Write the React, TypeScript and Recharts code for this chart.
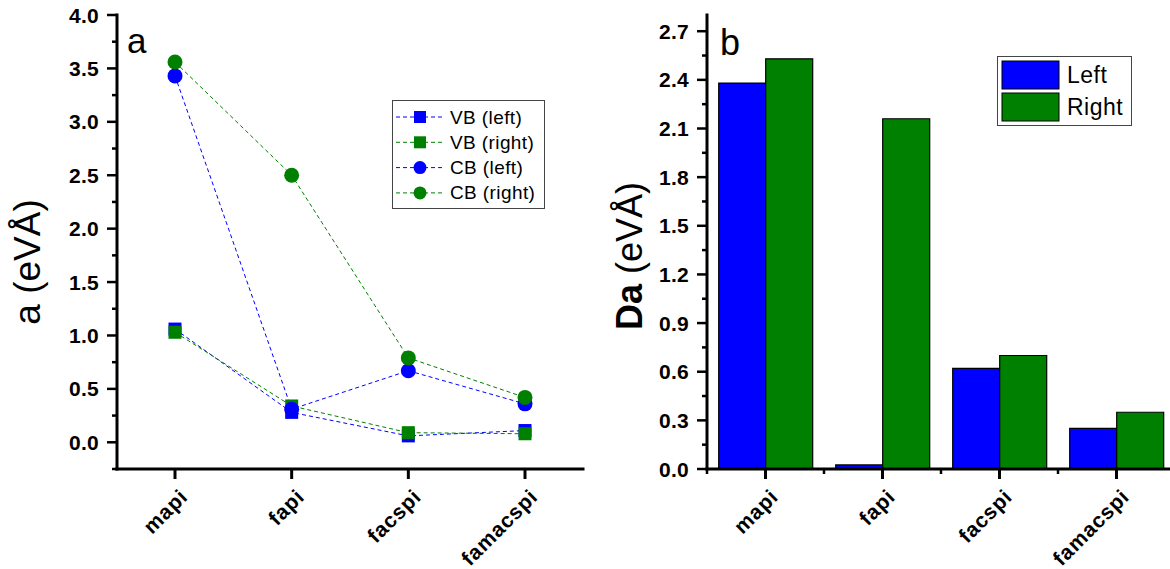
import React from 'react';
import { LineChart, Line, XAxis, YAxis, BarChart, Bar, Legend, Label } from 'recharts';

const categories = ['mapi', 'fapi', 'facspi', 'famacspi'];
const vbLeft = [1.06, 0.28, 0.06, 0.11];
const vbRight = [1.03, 0.34, 0.09, 0.08];
const cbLeft = [3.43, 0.31, 0.67, 0.36];
const cbRight = [3.56, 2.5, 0.79, 0.42];
const daLeft = [2.38, 0.025, 0.62, 0.25];
const daRight = [2.53, 2.16, 0.7, 0.35];

const leftYTicks = [-0.25, 0, 0.25, 0.5, 0.75, 1.0, 1.25, 1.5, 1.75, 2.0, 2.25, 2.5, 2.75, 3.0, 3.25, 3.5, 3.75, 4.0];
const leftYMajor = [0, 0.5, 1.0, 1.5, 2.0, 2.5, 3.0, 3.5, 4.0];
const rightYTicks = [0, 0.15, 0.3, 0.45, 0.6, 0.75, 0.9, 1.05, 1.2, 1.35, 1.5, 1.65, 1.8, 1.95, 2.1, 2.25, 2.4, 2.55, 2.7];
const rightYMajor = [0, 0.3, 0.6, 0.9, 1.2, 1.5, 1.8, 2.1, 2.4, 2.7];

const lineSeries = [
  { key: 'vbLeft', label: 'VB (left)', color: '#0000ff', shape: 'square', values: vbLeft },
  { key: 'vbRight', label: 'VB (right)', color: '#008000', shape: 'square', values: vbRight },
  { key: 'cbLeft', label: 'CB (left)', color: '#0000ff', shape: 'circle', values: cbLeft },
  { key: 'cbRight', label: 'CB (right)', color: '#008000', shape: 'circle', values: cbRight },
];
const barSeries = [
  { key: 'left', label: 'Left', color: '#0000ff', values: daLeft },
  { key: 'right', label: 'Right', color: '#008000', values: daRight },
];

const FONT = '"Liberation Sans", Arial, Helvetica, sans-serif';
const AX = { stroke: '#000', strokeWidth: 3, strokeLinecap: 'square' as const };

const lineData = categories.map((name, i) => {
  const row: any = { name };
  lineSeries.forEach((s) => (row[s.key] = s.values[i]));
  return row;
});
const barData = categories.map((name, i) => {
  const row: any = { name };
  barSeries.forEach((s) => (row[s.key] = s.values[i]));
  return row;
});

const isIn = (arr: number[], v: number) => arr.some((a) => Math.abs(a - v) < 1e-6);

const makeYTick = (major: number[], digits: number) => (props: any) => {
  const { x, y, payload } = props;
  const ax = x + 18;
  const isMajor = isIn(major, payload.value);
  return (
    <g>
      <line x1={ax} x2={ax - (isMajor ? 10 : 5)} y1={y} y2={y} stroke="#000" strokeWidth={2.5} />
      {isMajor && (
        <text x={x} y={y} dy="0.36em" textAnchor="end" fontFamily={FONT} fontWeight="bold" fontSize={21} fill="#000" letterSpacing={0.3}>
          {Number(payload.value).toFixed(digits)}
        </text>
      )}
    </g>
  );
};

const makeXTick = (withMinor: boolean) => (props: any) => {
  const { x, y, payload, width, visibleTicksCount, index } = props;
  const ay = y - 12;
  const band = width && visibleTicksCount ? width / visibleTicksCount : 0;
  return (
    <g>
      <line x1={x} x2={x} y1={ay} y2={ay + 10} stroke="#000" strokeWidth={3} />
      {withMinor && band > 0 && <line x1={x - band / 2} x2={x - band / 2} y1={ay} y2={ay + 5} stroke="#000" strokeWidth={2.5} />}
      {withMinor && band > 0 && index === visibleTicksCount - 1 && (
        <line x1={x + band / 2} x2={x + band / 2} y1={ay} y2={ay + 5} stroke="#000" strokeWidth={2.5} />
      )}
      <text
        x={x + 14}
        y={ay + 29}
        transform={`rotate(-45 ${x + 14} ${ay + 29})`}
        textAnchor="end"
        fontFamily={FONT}
        fontWeight="bold"
        fontSize={21}
        letterSpacing={0.8}
        fill="#000"
      >
        {payload.value}
      </text>
    </g>
  );
};

const makeDot = (shape: string, color: string) => (props: any) => {
  const { cx, cy, index } = props;
  if (cx == null || cy == null) return <g key={index} />;
  if (shape === 'square')
    return <rect key={index} x={cx - 6.5} y={cy - 6.5} width={13} height={13} fill={color} stroke="none" />;
  return <circle key={index} cx={cx} cy={cy} r={7.5} fill={color} stroke="none" />;
};

const LeftLegend = () => (
  <div style={{ width: 153, height: 109, border: '1px solid #444', boxSizing: 'border-box', background: '#fff' }}>
    <svg width={151} height={107} style={{ display: 'block' }}>
      {lineSeries.map((s, i) => {
        const cy = 16 + i * 25.3;
        return (
          <g key={s.key}>
            <line x1={3} x2={51} y1={cy} y2={cy} stroke={s.color} strokeWidth={1} strokeDasharray="4 3" />
            {s.shape === 'square' ? (
              <rect x={27 - 6} y={cy - 6} width={12} height={12} fill={s.color} />
            ) : (
              <circle cx={27} cy={cy} r={6.5} fill={s.color} />
            )}
            <text x={57} y={cy + 6.5} fontFamily={FONT} fontSize={19} fill="#000" letterSpacing={0.4}>
              {s.label}
            </text>
          </g>
        );
      })}
    </svg>
  </div>
);

const RightLegend = () => (
  <div style={{ width: 135, height: 70, border: '1px solid #444', boxSizing: 'border-box', background: '#fff' }}>
    <svg width={133} height={68} style={{ display: 'block' }}>
      {barSeries.map((s, i) => {
        const top = 4 + i * 32;
        return (
          <g key={s.key}>
            <rect x={4} y={top} width={57} height={28} fill={s.color} stroke="#000" strokeWidth={1} />
            <text x={69} y={top + 22} fontFamily={FONT} fontSize={23} fill="#000" letterSpacing={0.5}>
              {s.label}
            </text>
          </g>
        );
      })}
    </svg>
  </div>
);

export default function App() {
  return (
    <div style={{ position: 'absolute', left: 0, top: 0, width: 1170, height: 569, overflow: 'hidden', background: '#fff' }}>
      <div style={{ position: 'absolute', left: 0, top: 0 }}>
        <LineChart width={600} height={569} data={lineData} margin={{ top: 15, right: 17, bottom: 0, left: 0 }}>
          <XAxis
            dataKey="name"
            height={100}
            padding={{ left: 58, right: 58 }}
            axisLine={AX}
            tickLine={{ stroke: 'none' }}
            tickSize={10}
            tickMargin={2}
            interval={0}
            tick={makeXTick(false)}
          />
          <XAxis xAxisId="top" dataKey="name" orientation="top" height={0} tick={false} tickLine={false} axisLine={AX} />
          <YAxis
            width={117}
            domain={[-0.25, 4]}
            ticks={leftYTicks}
            interval={0}
            type="number"
            axisLine={AX}
            tickLine={{ stroke: 'none' }}
            tickSize={10}
            tickMargin={8}
            tick={makeYTick(leftYMajor, 1)}
          >
            <Label
              content={() => (
                <text x={27} y={262} transform="rotate(-90 27 262)" textAnchor="middle" dominantBaseline="central" fontFamily={FONT} fontSize={37} fill="#000">
                  a (eVÅ)
                </text>
              )}
            />
            <Label
              content={() => (
                <text x={127} y={53} fontFamily={FONT} fontSize={35} fill="#000">
                  a
                </text>
              )}
            />
          </YAxis>
          <YAxis yAxisId="r" orientation="right" width={0} domain={[-0.25, 4]} type="number" tick={false} tickLine={false} axisLine={AX} />
          <Legend
            layout="vertical"
            align="center"
            verticalAlign="middle"
            wrapperStyle={{ left: 392, top: 100, width: 153, height: 109 }}
            content={() => <LeftLegend />}
          />
          {lineSeries.map((s) => (
            <Line
              key={s.key}
              dataKey={s.key}
              stroke={s.color}
              strokeWidth={1}
              strokeDasharray="4 3"
              dot={makeDot(s.shape, s.color)}
              activeDot={false}
              isAnimationActive={false}
            />
          ))}
        </LineChart>
      </div>
      <div style={{ position: 'absolute', left: 590, top: 0 }}>
        <BarChart width={600} height={569} data={barData} margin={{ top: 15, right: 15, bottom: 0, left: 0 }} barCategoryGap="10%" barGap={0}>
          <XAxis
            dataKey="name"
            height={100}
            axisLine={AX}
            tickLine={{ stroke: 'none' }}
            tickSize={10}
            tickMargin={2}
            interval={0}
            tick={makeXTick(true)}
          />
          <XAxis xAxisId="top" dataKey="name" orientation="top" height={0} tick={false} tickLine={false} axisLine={AX} />
          <YAxis
            width={117}
            domain={[0, 2.8]}
            ticks={rightYTicks}
            interval={0}
            type="number"
            axisLine={AX}
            tickLine={{ stroke: 'none' }}
            tickSize={10}
            tickMargin={8}
            tick={makeYTick(rightYMajor, 1)}
          >
            <Label
              content={() => (
                <text x={39} y={256} transform="rotate(-90 39 256)" textAnchor="middle" dominantBaseline="central" fontFamily={FONT} fontSize={36} fill="#000">
                  <tspan fontWeight="bold">Da</tspan>
                  <tspan> (eVÅ)</tspan>
                </text>
              )}
            />
            <Label
              content={() => (
                <text x={130} y={55} fontFamily={FONT} fontSize={36} fill="#000">
                  b
                </text>
              )}
            />
          </YAxis>
          <Legend
            layout="vertical"
            align="center"
            verticalAlign="middle"
            wrapperStyle={{ left: 407, top: 56, width: 135, height: 70 }}
            content={() => <RightLegend />}
          />
          {barSeries.map((s) => (
            <Bar key={s.key} dataKey={s.key} fill={s.color} stroke="#000" strokeWidth={1.2} isAnimationActive={false} />
          ))}
        </BarChart>
      </div>
    </div>
  );
}
